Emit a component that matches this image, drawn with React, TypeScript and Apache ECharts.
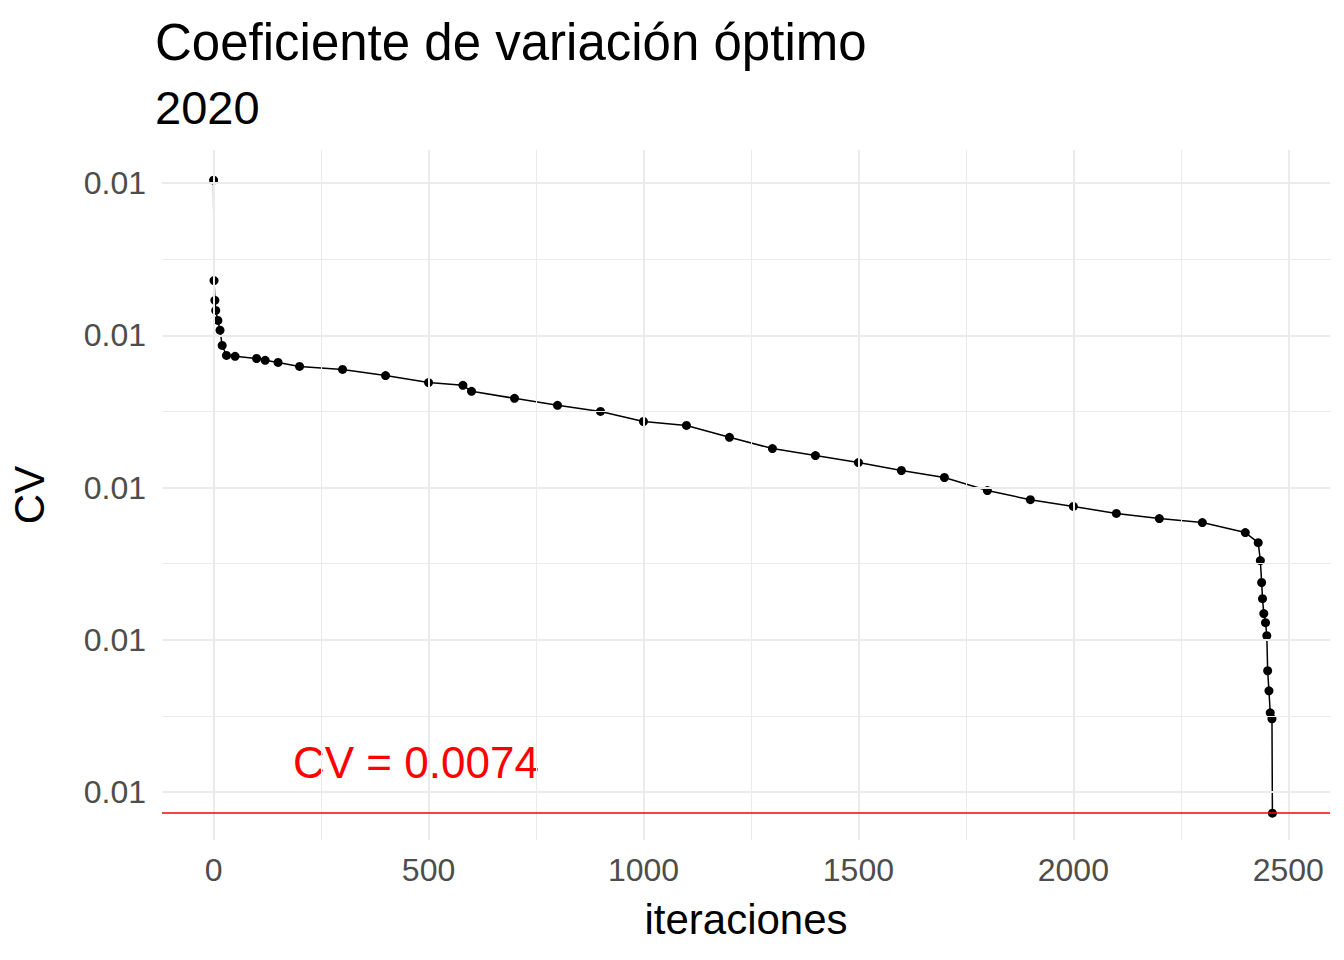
import { useEffect, useRef } from 'react';
import * as echarts from 'echarts';

// CV values are kept in thousandths (x 1000) so markLine precision holds
const iterations = [0, 1, 3, 5, 10, 15, 20, 30, 50, 100, 120, 150, 200, 300, 400, 500, 580, 600, 700, 800, 900, 1000, 1100, 1200, 1300, 1400, 1500, 1600, 1700, 1800, 1900, 2000, 2100, 2200, 2300, 2400, 2430, 2435, 2438, 2440, 2443, 2447, 2450, 2452, 2455, 2458, 2462, 2463];
const cvMil = [9.51, 9.18, 9.115, 9.082, 9.049, 9.017, 8.967, 8.934, 8.931, 8.924, 8.918, 8.911, 8.898, 8.888, 8.868, 8.845, 8.836, 8.816, 8.793, 8.77, 8.75, 8.717, 8.704, 8.665, 8.628, 8.605, 8.582, 8.556, 8.533, 8.49, 8.46, 8.438, 8.415, 8.398, 8.385, 8.352, 8.319, 8.26, 8.188, 8.135, 8.086, 8.056, 8.013, 7.898, 7.832, 7.76, 7.74, 7.43];
const cvOptimoMil = 7.43;
const xTicks = [0, 500, 1000, 1500, 2000, 2500];
const xMinor = [-250, 250, 750, 1250, 1750, 2250];
const yTicks = [7.5, 8, 8.5, 9, 9.5];
const yMinor = [7.75, 8.25, 8.75, 9.25];

export default function App() {
  const ref = useRef<HTMLDivElement>(null);

  useEffect(() => {
    if (!ref.current) return;
    const chart = echarts.init(ref.current, null, { renderer: 'svg' });
    const grid = (v: number, axis: 'x' | 'y', w: number) =>
      axis === 'x' ? { xAxis: v, lineStyle: { color: '#ebebeb', width: w, type: 'solid' } }
        : { yAxis: v, lineStyle: { color: '#ebebeb', width: w, type: 'solid' } };
    chart.setOption({
      animation: false,
      backgroundColor: '#fff',
      textStyle: { fontFamily: 'Arial, Liberation Sans, sans-serif' },
      title: {
        text: 'Coeficiente de variación óptimo',
        subtext: '2020',
        left: 150,
        top: 12,
        itemGap: 16,
        textStyle: { fontSize: 51, fontWeight: 'normal', color: '#000' },
        subtextStyle: { fontSize: 47, color: '#000' },
      },
      grid: { left: 155, right: 14, top: 150, bottom: 120 },
      xAxis: {
        type: 'value',
        min: -120,
        max: 2597,
        name: 'iteraciones',
        nameLocation: 'middle',
        nameGap: 58,
        nameTextStyle: { fontSize: 42, color: '#000' },
        axisLine: { show: false },
        axisTick: { show: false },
        splitLine: { show: false },
        axisLabel: { customValues: xTicks, fontSize: 32, color: '#4d4d4d', margin: 14, formatter: (v: number) => String(v) },
      },
      yAxis: {
        type: 'value',
        min: 7.342,
        max: 9.609,
        name: 'CV',
        nameLocation: 'middle',
        nameGap: 112,
        nameTextStyle: { fontSize: 42, color: '#000' },
        axisLine: { show: false },
        axisTick: { show: false },
        splitLine: { show: false },
        axisLabel: {
          customValues: yTicks,
          fontSize: 32,
          color: '#4d4d4d',
          margin: 16,
          formatter: (v: number) => (v / 1000).toFixed(2),
        },
      },
      graphic: [{
        type: 'text',
        left: 293,
        top: 740,
        style: { text: 'CV = 0.0074', fontSize: 44, fill: '#ff0000', fontFamily: 'Arial, Liberation Sans, sans-serif' },
      }],
      series: [
        {
          type: 'line',
          data: [],
          silent: true,
          markLine: {
            symbol: 'none',
            silent: true,
            precision: 4,
            label: { show: false },
            data: [
              ...xMinor.map((v) => grid(v, 'x', 1)),
              ...yMinor.map((v) => grid(v, 'y', 1)),
              ...xTicks.map((v) => grid(v, 'x', 2)),
              ...yTicks.map((v) => grid(v, 'y', 2)),
            ],
          },
        },
        {
          type: 'line',
          data: iterations.map((x, i) => [x, cvMil[i]]),
          symbol: 'circle',
          symbolSize: 9,
          itemStyle: { color: '#000' },
          lineStyle: { color: '#000', width: 1.5 },
          markLine: {
            symbol: 'none',
            silent: true,
            precision: 4,
            label: { show: false },
            data: [{ yAxis: cvOptimoMil, lineStyle: { color: '#ff0000', width: 1.5, type: 'solid' } }],
          },
        },
      ],
    });
    return () => chart.dispose();
  }, []);

  return <div ref={ref} style={{ position: 'fixed', left: 0, top: 0, width: 1344, height: 960 }} />;
}
